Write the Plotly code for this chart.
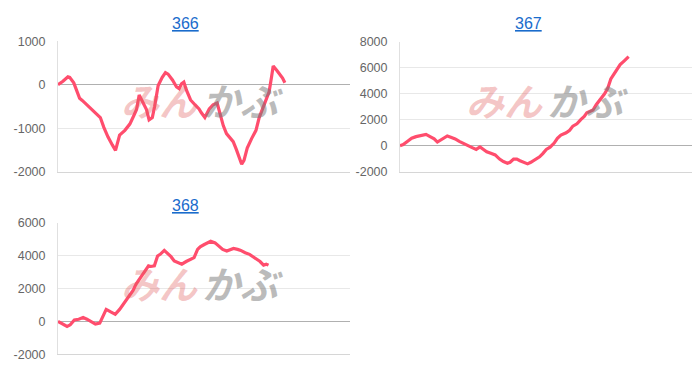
import plotly.graph_objects as go

# ---- data (x = day index, y = cumulative value) ----
x366 = [0, 1.7, 3.4, 4.0, 5.4, 6.5, 7.4, 8.3, 9.9, 11.4, 13.1, 14.5, 15.7, 17.1, 18.6, 19.7,
        20.2, 21.1, 22.9, 24.6, 25.9, 26.9, 27.8, 28.9, 30.3, 31.2, 32.3, 33.1, 34.3, 35.7,
        36.8, 37.7, 39.2, 40.6, 41.5, 42.3, 43.1, 44.0, 45.4, 46.9, 48.3, 49.1, 50.3, 51.8,
        53.1, 54.5, 55.4, 56.6, 57.7, 58.9, 60.0, 61.1, 62.1, 62.9, 63.7, 64.8, 66.3, 67.8,
        68.9, 70.3, 71.4, 72.3, 73.1, 73.7, 74.9, 76.0, 76.9, 77.7]
y366 = [0, 80, 185, 170, 45, -125, -310, -360, -460, -555, -680, -755, -980, -1200, -1385, -1510,
        -1385, -1160, -1050, -905, -720, -570, -237, -385, -570, -807, -755, -496, -15, 170,
        280, 245, 110, -50, -90, 20, 60, -125, -350, -460, -555, -645, -755, -555,
        -460, -420, -645, -940, -1125, -1220, -1310, -1495, -1680, -1830, -1740, -1460, -1240, -1050,
        -755, -496, -310, -163, 170, 430, 335, 230, 155, 45]

x367 = [0, 1.1, 2.5, 4.0, 5.5, 6.9, 7.8, 8.9, 10.3, 11.7, 12.8, 13.9, 15.4, 16.2, 17.4, 18.9,
        20.3, 21.9, 23.4, 24.9, 26.1, 27.4, 28.6, 29.7, 31.1, 32.6, 34.1, 35.4, 36.8, 37.7,
        38.9, 40.0, 41.1, 42.5, 43.7, 44.8, 46.3, 47.8, 48.9, 50.1, 51.4, 52.8, 53.9, 55.1,
        56.9, 58.1, 59.2, 60.6, 61.9, 63.1, 64.0, 65.1, 66.1, 67.2, 68.6, 70.0, 71.1, 72.2,
        73.1, 74.3, 75.4, 76.8, 78.3]
y367 = [0, 75, 320, 565, 690, 740, 810, 860, 690, 515, 270, 445, 640, 740, 640, 515,
        320, 125, -50, -170, -295, -100, -295, -470, -590, -715, -1035, -1230, -1355, -1280,
        -1035, -1035, -1160, -1280, -1405, -1280, -1085, -860, -615, -295, -125, 195, 565, 810,
        985, 1180, 1500, 1675, 2000, 2240, 2535, 2610, 2735, 3150, 3520, 3965, 4385, 5125,
        5445, 5815, 6230, 6525, 6850]

x368 = [0, 1.4, 3.1, 4.2, 5.6, 7.1, 8.6, 9.9, 11.3, 12.8, 14.3, 15.1, 16.5, 17.9, 19.6, 21.1,
        22.5, 24.2, 25.7, 26.8, 28.2, 29.5, 31.0, 31.8, 33.0, 34.1, 35.0, 36.4, 37.3, 38.7,
        39.8, 41.3, 42.4, 43.9, 45.3, 46.6, 47.8, 48.7, 50.1, 51.5, 52.3, 53.8, 55.0, 56.4,
        57.8, 58.9, 60.1, 61.5, 62.6, 64.1, 65.6, 66.9, 68.1, 69.2, 70.4, 71.3, 72.1]
y368 = [0, -140, -300, -200, 100, 140, 240, 140, 0, -160, -100, 200, 735, 595, 435, 735,
        1095, 1490, 1890, 2285, 2645, 2920, 3380, 3340, 3380, 3975, 4075, 4315, 4175, 3935,
        3680, 3580, 3480, 3640, 3775, 3875, 4375, 4535, 4670, 4830, 4870, 4770, 4575, 4375,
        4275, 4335, 4435, 4375, 4315, 4175, 4075, 3915, 3775, 3640, 3420, 3480, 3420]

titles = ["366", "367", "368"]
yticks366 = [-2000, -1000, 0, 1000]
yticks367 = [-2000, 0, 2000, 4000, 6000, 8000]
yticks368 = [-2000, 0, 2000, 4000, 6000]

LINE = "#ff4d6d"
W, H = 700, 374

fig = go.Figure()
series = [(x366, y366, "x", "y"), (x367, y367, "x2", "y2"), (x368, y368, "x3", "y3")]
for xs, ys, xa, ya in series:
    fig.add_trace(go.Scatter(x=xs, y=ys, mode="lines", xaxis=xa, yaxis=ya,
                             line=dict(color=LINE, width=3.2), showlegend=False,
                             hoverinfo="skip"))

def dom_x(a, b):
    return [a / W, b / W]

def dom_y(top, bottom):
    return [1 - bottom / H, 1 - top / H]

boxes = [
    (58, 350, 35.7, 171, yticks366),
    (400, 692, 36, 171, yticks367),
    (58, 350, 224, 361, yticks368),
]

font_tick = dict(family="Liberation Sans, Arial, sans-serif", size=12.5, color="#666666")
for i, (l, r, t, b, ticks) in enumerate(boxes):
    sfx = "" if i == 0 else str(i + 1)
    fig.layout["xaxis" + sfx] = dict(domain=dom_x(l, r), range=[0, 100], showticklabels=False,
                                     showgrid=False, zeroline=False, showline=True,
                                     linecolor="#d6d6d6", linewidth=1,
                                     anchor="y" + sfx, fixedrange=True)
    fig.layout["yaxis" + sfx] = dict(domain=dom_y(t, b), range=[ticks[0], ticks[-1]],
                                     tickvals=ticks, ticktext=[str(v) for v in ticks],
                                     showgrid=True, gridcolor="#e8e8e8", gridwidth=1,
                                     zeroline=True, zerolinecolor="#b0b0b0", zerolinewidth=1,
                                     showline=True, linecolor="#e0e0e0", linewidth=1,
                                     tickfont=font_tick, ticklabelstandoff=9,
                                     anchor="x" + sfx, fixedrange=True)

title_pos = [(185, 17), (528, 17), (185, 206)]
for (px, py), txt in zip(title_pos, titles):
    fig.add_annotation(x=px / W, y=1 - py / H, xref="paper", yref="paper",
                       text="<u>" + txt + "</u>", showarrow=False,
                       font=dict(family="Liberation Sans, Arial, sans-serif", size=16,
                                 color="#1a6ccc"),
                       xanchor="center", yanchor="middle")

# watermark
wm_pos = [(199, 96), (544, 96), (199, 286)]
for px, py in wm_pos:
    fig.add_annotation(x=(px + 1) / W, y=1 - py / H, xref="paper", yref="paper",
                       text="みん", showarrow=False, xanchor="right", yanchor="middle",
                       font=dict(family="Noto Sans CJK JP", size=38,
                                 color="rgba(225,90,90,0.35)", weight="bold",
                                 style="italic"))
    fig.add_annotation(x=(px + 1) / W, y=1 - py / H, xref="paper", yref="paper",
                       text="かぶ", showarrow=False, xanchor="left", yanchor="middle",
                       font=dict(family="Noto Sans CJK JP", size=38,
                                 color="rgba(120,120,120,0.5)", weight="bold",
                                 style="italic"))

fig.update_layout(width=W, height=H, margin=dict(l=0, r=0, t=0, b=0),
                  paper_bgcolor="white", plot_bgcolor="white")

fig.write_html("out.html")
